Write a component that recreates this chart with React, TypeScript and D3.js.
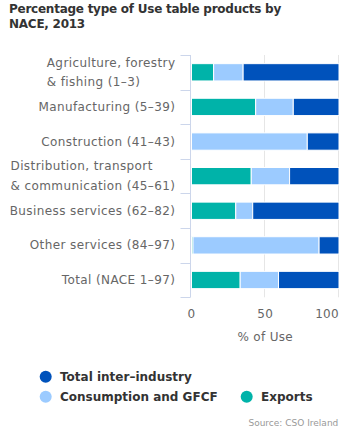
import React, { useEffect, useRef } from "react";
import * as d3 from "d3";

const categories = [
  "Agriculture, forestry & fishing (1–3)",
  "Manufacturing (5–39)",
  "Construction (41–43)",
  "Distribution, transport & communication (45–61)",
  "Business services (62–82)",
  "Other services (84–97)",
  "Total (NACE 1–97)",
];
const exportsVals = [15, 43.5, 0, 40.5, 30, 1, 33];
const consumptionVals = [20, 25.5, 78.5, 26, 11.5, 85.5, 26];
const interIndustryVals = [65, 31, 21.5, 33.5, 58.5, 13.5, 41];
const xTicks = [0, 50, 100];
const seriesKeys = ["exports", "consumption", "inter"];
const seriesNames: Record<string, string> = {
  inter: "Total inter–industry",
  consumption: "Consumption and GFCF",
  exports: "Exports",
};
const seriesColors: Record<string, string> = {
  inter: "#0052bb",
  consumption: "#9ccbff",
  exports: "#00b3a9",
};

const W = 355;
const H = 434;
const FONT = "'DejaVu Sans', sans-serif";

export default function App() {
  const ref = useRef<SVGSVGElement>(null);

  useEffect(() => {
    const svg = d3.select(ref.current);
    svg.selectAll("*").remove();

    const left = 191.5;
    const right = 339;
    const top = 55;
    const bottom = 297.3;

    const x = d3.scaleLinear().domain([0, 100]).range([left, right]);
    const y = d3
      .scaleBand<string>()
      .domain(categories)
      .range([top, bottom])
      .paddingInner(0.5)
      .paddingOuter(0.25);

    // title
    const title = svg
      .append("text")
      .attr("font-family", FONT)
      .attr("font-weight", "bold")
      .attr("font-size", 12)
      .attr("letter-spacing", -0.25)
      .attr("fill", "#333");
    title.append("tspan").attr("x", 9).attr("y", 12.7).text("Percentage type of Use table products by");
    title.append("tspan").attr("x", 9).attr("y", 27.8).text("NACE, 2013");

    // gridlines
    svg
      .append("g")
      .selectAll("line")
      .data(xTicks.filter((t) => t > 0))
      .join("line")
      .attr("x1", (d) => Math.round(x(d)) - 0.5)
      .attr("x2", (d) => Math.round(x(d)) - 0.5)
      .attr("y1", top)
      .attr("y2", bottom)
      .attr("stroke", "#e6e6e6");

    // stacked bars
    const rows = categories.map((c, i) => ({
      cat: c,
      exports: exportsVals[i],
      consumption: consumptionVals[i],
      inter: interIndustryVals[i],
    }));
    const stack = d3.stack<any>().keys(seriesKeys)(rows);
    stack.forEach((layer) => {
      svg
        .append("g")
        .selectAll("rect")
        .data(layer.filter((d) => d[1] - d[0] > 0))
        .join("rect")
        .attr("x", (d) => x(d[0]))
        .attr("width", (d) => Math.max(0, x(d[1]) - x(d[0])))
        .attr("y", (d) => y(d.data.cat)!)
        .attr("height", y.bandwidth())
        .attr("fill", seriesColors[layer.key])
        .attr("stroke", "#fff")
        .attr("stroke-width", 1);
    });

    // axis line and ticks
    const ax = svg.append("g").attr("stroke", "#ccd6eb");
    ax.append("line")
      .attr("x1", left - 1)
      .attr("x2", left - 1)
      .attr("y1", top)
      .attr("y2", bottom);
    const step = y.step();
    const bounds = d3.range(categories.length + 1).map((i) => top + i * step);
    ax.selectAll("line.tick")
      .data(bounds)
      .join("line")
      .attr("class", "tick")
      .attr("x1", left - 11)
      .attr("x2", left - 1)
      .attr("y1", (d) => Math.round(d) + 0.5)
      .attr("y2", (d) => Math.round(d) + 0.5);

    // category labels
    categories.forEach((c) => {
      const lines = c.includes(" & ") ? [c.split(" & ")[0], "& " + c.split(" & ")[1]] : [c];
      const cy = y(c)! + y.bandwidth() / 2;
      const lh = 19.4;
      const g = svg.append("g");
      const texts = lines.map((l, i) =>
        g
          .append("text")
          .attr("font-family", FONT)
          .attr("font-size", 12)
          .attr("letter-spacing", 0.4)
          .attr("fill", "#666")
          .attr("dominant-baseline", "central")
          .attr("y", cy + (i - (lines.length - 1) / 2) * lh)
          .text(l)
      );
      const widths = texts.map((t) => (t.node() as SVGTextElement).getComputedTextLength());
      const maxW = d3.max(widths)!;
      texts.forEach((t) => t.attr("x", 175.4 - maxW));
    });

    // x tick labels
    svg
      .append("g")
      .selectAll("text")
      .data(xTicks)
      .join("text")
      .attr("font-family", FONT)
      .attr("font-size", 12)
      .attr("letter-spacing", 0.3)
      .attr("fill", "#666")
      .attr("text-anchor", (d) => (d === 100 ? "end" : "middle"))
      .attr("x", (d) => x(d))
      .attr("y", 317.5)
      .text((d) => String(d));

    svg
      .append("text")
      .attr("font-family", FONT)
      .attr("font-size", 12)
      .attr("letter-spacing", 0.3)
      .attr("fill", "#666")
      .attr("text-anchor", "middle")
      .attr("x", x(50))
      .attr("y", 341)
      .text("% of Use");

    // legend
    const legendItems = [
      { key: "inter", cx: 45.7, cy: 376.7 },
      { key: "consumption", cx: 45.7, cy: 396.7 },
      { key: "exports", cx: 246.7, cy: 396.7 },
    ];
    const lg = svg.append("g");
    legendItems.forEach((it) => {
      lg.append("circle").attr("cx", it.cx).attr("cy", it.cy).attr("r", 6).attr("fill", seriesColors[it.key]);
      lg.append("text")
        .attr("font-family", FONT)
        .attr("font-weight", "bold")
        .attr("font-size", 12)
        .attr("fill", "#333")
        .attr("x", it.cx + 14.3)
        .attr("y", it.cy + 4.5)
        .text(seriesNames[it.key]);
    });

    svg
      .append("text")
      .attr("font-family", FONT)
      .attr("font-size", 9)
      .attr("fill", "#999")
      .attr("text-anchor", "end")
      .attr("x", 338.3)
      .attr("y", 425.5)
      .text("Source: CSO Ireland");
  }, []);

  return (
    <div style={{ position: "absolute", left: 0, top: 0 }}>
      <svg ref={ref} width={W} height={H} style={{ display: "block", background: "#fff" }} />
    </div>
  );
}
